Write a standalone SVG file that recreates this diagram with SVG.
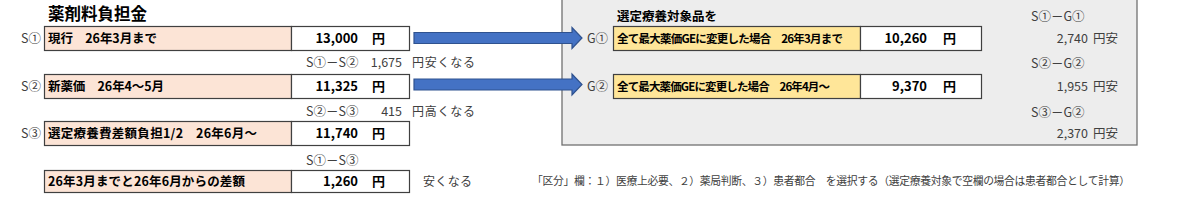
<svg xmlns="http://www.w3.org/2000/svg" width="1200" height="214" viewBox="0 0 1200 214">
<style>
text{font-family:"Noto Sans CJK JP","Noto Sans",sans-serif;}
.title{font-size:16.5px;font-weight:bold;fill:#000;}
.lbl{font-size:12.5px;font-weight:bold;fill:#000;}
.glbl{font-size:11.5px;font-weight:bold;fill:#000;}
.val{font-size:13px;font-weight:bold;fill:#000;}
.side{font-size:12.5px;fill:#404040;}
.note{font-size:12px;fill:#404040;}
.foot{font-size:10.8px;fill:#404040;}
.pink{fill:#fce4d6;stroke:#404040;stroke-width:1.2;}
.yel{fill:#ffe699;stroke:#404040;stroke-width:1.2;}
.wht{fill:#fff;stroke:#404040;stroke-width:1.2;}
.arrow{fill:#4472c4;stroke:#2f528f;stroke-width:1.2;}
</style>
<rect x="0" y="0" width="1200" height="214" fill="#fff"/>
<g id="panel">
<rect x="562" y="-2" width="575" height="147" fill="#ededed" stroke="#707070" stroke-width="1.3"/>
<text class="lbl" x="617" y="20.5">選定療養対象品を</text>
</g>
<text class="title" x="48" y="20">薬剤料負担金</text>
<g id="s1">
<text class="side" x="21" y="42.5">S①</text>
<rect class="pink" x="44.5" y="26.5" width="247" height="24"/>
<rect class="wht" x="291.5" y="26.5" width="118" height="24"/>
<text class="lbl" x="48" y="43" textLength="109">現行　26年3月まで</text>
<text class="val" x="358" y="43" text-anchor="end">13,000</text>
<text class="val" x="372" y="43">円</text>
</g>
<g id="diff12">
<text class="side" x="306" y="67">S①－S②</text>
<text class="side" x="402" y="67" text-anchor="end">1,675</text>
<text class="note" x="412" y="67" textLength="63">円安くなる</text>
</g>
<g id="s2">
<text class="side" x="21" y="90.5">S②</text>
<rect class="pink" x="44.5" y="74.5" width="247" height="24"/>
<rect class="wht" x="291.5" y="74.5" width="118" height="24"/>
<text class="lbl" x="48" y="91" textLength="116">新薬価　26年4～5月</text>
<text class="val" x="358" y="91" text-anchor="end">11,325</text>
<text class="val" x="372" y="91">円</text>
</g>
<g id="diff23">
<text class="side" x="306" y="115.5">S②－S③</text>
<text class="side" x="402" y="115.5" text-anchor="end">415</text>
<text class="note" x="412" y="115.5" textLength="63">円高くなる</text>
</g>
<g id="s3">
<text class="side" x="21" y="137.5">S③</text>
<rect class="pink" x="44.5" y="121.5" width="247" height="24"/>
<rect class="wht" x="291.5" y="121.5" width="118" height="24"/>
<text class="lbl" x="48" y="138" textLength="209">選定療養費差額負担1/2　26年6月～</text>
<text class="val" x="358" y="138" text-anchor="end">11,740</text>
<text class="val" x="372" y="138">円</text>
</g>
<g id="diff13">
<text class="side" x="306" y="164.5">S①－S③</text>
</g>
<g id="total">
<rect class="pink" x="44.5" y="170.5" width="247" height="22"/>
<rect class="wht" x="291.5" y="170.5" width="118" height="22"/>
<text class="lbl" x="48" y="186" textLength="197">26年3月までと26年6月からの差額</text>
<text class="val" x="358" y="186" text-anchor="end">1,260</text>
<text class="val" x="372" y="186">円</text>
<text class="note" x="423" y="186" textLength="49">安くなる</text>
</g>
<g id="g1">
<text class="side" x="587" y="42.5">G①</text>
<rect class="yel" x="613.5" y="26.5" width="247" height="24"/>
<rect class="wht" x="860.5" y="26.5" width="121" height="24"/>
<text class="glbl" x="617" y="43" textLength="226">全て最大薬価GEに変更した場合　26年3月まで</text>
<text class="val" x="927" y="43" text-anchor="end">10,260</text>
<text class="val" x="943" y="43">円</text>
</g>
<g id="g2">
<text class="side" x="587" y="90.5">G②</text>
<rect class="yel" x="613.5" y="74.5" width="247" height="24"/>
<rect class="wht" x="860.5" y="74.5" width="121" height="24"/>
<text class="glbl" x="617" y="91" textLength="213">全て最大薬価GEに変更した場合　26年4月～</text>
<text class="val" x="927" y="91" text-anchor="end">9,370</text>
<text class="val" x="943" y="91">円</text>
</g>
<g id="cmp">
<text class="side" x="1031" y="21">S①－G①</text>
<text class="side" x="1088" y="43" text-anchor="end">2,740</text>
<text class="side" x="1093" y="43" textLength="25">円安</text>
<text class="side" x="1031" y="68">S②－G②</text>
<text class="side" x="1088" y="91" text-anchor="end">1,955</text>
<text class="side" x="1093" y="91" textLength="25">円安</text>
<text class="side" x="1031" y="116.5">S③－G②</text>
<text class="side" x="1088" y="138" text-anchor="end">2,370</text>
<text class="side" x="1093" y="138" textLength="25">円安</text>
</g>
<g id="connectors">
<path class="arrow" d="M414,32.5 H572 V27.5 L582,38 L572,48.5 V43.5 H414 Z"/>
<path class="arrow" d="M414,79 H572 V74 L582,84.5 L572,95 V90 H414 Z"/>
</g>
<g id="footnote">
<text class="foot" x="532" y="185" textLength="598">「区分」欄：１）医療上必要、２）薬局判断、３）患者都合　を選択する（選定療養対象で空欄の場合は患者都合として計算）</text>
</g>
</svg>
